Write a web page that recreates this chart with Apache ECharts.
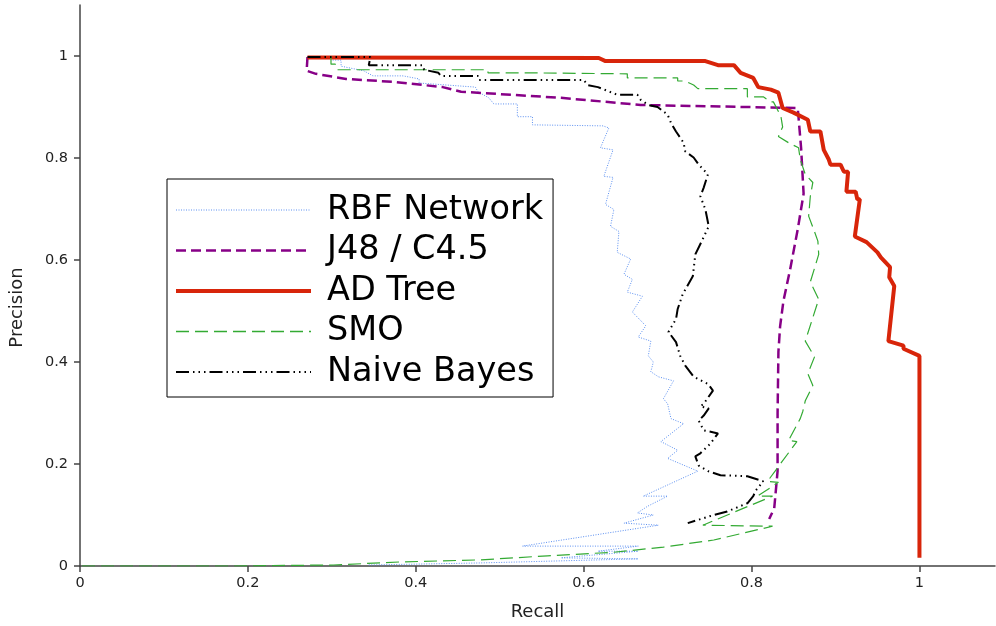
<!DOCTYPE html>
<html>
<head>
<meta charset="utf-8">
<title>Precision / Recall</title>
<script src="https://cdn.jsdelivr.net/npm/echarts@6/dist/echarts.min.js"></script>
<style>
  html, body { margin: 0; padding: 0; background: #fff; }
  #chart { width: 996px; height: 626px; }
</style>
</head>
<body>
<div id="chart"></div>
<script>
// [recall, precision] pairs
var rbfNetwork = [
  [0.301, 0.992], [0.311, 0.992], [0.311, 0.980], [0.338, 0.971], [0.349, 0.961], [0.385, 0.961],
  [0.404, 0.955], [0.404, 0.947], [0.471, 0.939], [0.474, 0.930], [0.487, 0.918], [0.493, 0.906],
  [0.521, 0.906], [0.521, 0.881], [0.539, 0.881], [0.539, 0.865], [0.623, 0.863], [0.630, 0.859],
  [0.620, 0.820], [0.635, 0.816], [0.624, 0.764], [0.635, 0.762], [0.626, 0.709], [0.636, 0.699],
  [0.632, 0.666], [0.642, 0.656], [0.640, 0.615], [0.656, 0.602], [0.648, 0.572], [0.658, 0.562],
  [0.652, 0.537], [0.670, 0.529], [0.658, 0.498], [0.674, 0.471], [0.665, 0.449], [0.680, 0.441],
  [0.677, 0.412], [0.683, 0.400], [0.680, 0.381], [0.689, 0.371], [0.707, 0.363], [0.695, 0.328],
  [0.700, 0.318], [0.704, 0.289], [0.719, 0.279], [0.692, 0.244], [0.712, 0.227], [0.700, 0.211],
  [0.736, 0.186], [0.671, 0.137], [0.700, 0.137], [0.676, 0.117], [0.664, 0.104], [0.683, 0.100],
  [0.648, 0.084], [0.689, 0.080], [0.527, 0.039], [0.665, 0.039], [0.617, 0.029], [0.665, 0.029],
  [0.573, 0.016], [0.665, 0.014], [0.477, 0.006], [0.343, 0.002]
];
var j48 = [
  [0.271, 0.998], [0.270, 0.971], [0.281, 0.965], [0.317, 0.955], [0.376, 0.949], [0.432, 0.939],
  [0.454, 0.930], [0.573, 0.918], [0.668, 0.904], [0.855, 0.898], [0.859, 0.820], [0.862, 0.730],
  [0.855, 0.660], [0.846, 0.582], [0.838, 0.520], [0.834, 0.470], [0.832, 0.420], [0.831, 0.300],
  [0.831, 0.186], [0.827, 0.113], [0.821, 0.092]
];
var adTree = [
  [0.271, 0.997], [0.618, 0.996], [0.626, 0.990], [0.745, 0.990], [0.760, 0.982], [0.779, 0.982],
  [0.787, 0.967], [0.802, 0.957], [0.808, 0.939], [0.823, 0.934], [0.832, 0.928], [0.837, 0.898],
  [0.850, 0.889], [0.867, 0.875], [0.870, 0.852], [0.882, 0.852], [0.886, 0.816], [0.892, 0.797],
  [0.894, 0.787], [0.906, 0.787], [0.910, 0.773], [0.915, 0.773], [0.913, 0.734], [0.924, 0.734],
  [0.926, 0.719], [0.929, 0.719], [0.923, 0.646], [0.937, 0.635], [0.950, 0.615], [0.954, 0.605],
  [0.965, 0.586], [0.964, 0.566], [0.970, 0.549], [0.963, 0.441], [0.981, 0.432], [0.981, 0.426],
  [1.000, 0.412], [1.000, 0.016]
];
var smo = [
  [0.299, 1.000], [0.299, 0.984], [0.304, 0.984], [0.307, 0.979], [0.307, 0.973], [0.486, 0.973],
  [0.486, 0.967], [0.531, 0.967], [0.531, 0.965], [0.652, 0.965], [0.652, 0.957], [0.712, 0.957],
  [0.712, 0.951], [0.721, 0.951], [0.731, 0.943], [0.736, 0.936], [0.795, 0.936], [0.795, 0.920],
  [0.814, 0.920], [0.823, 0.910], [0.826, 0.910], [0.832, 0.891], [0.835, 0.881], [0.837, 0.861],
  [0.832, 0.842], [0.844, 0.830], [0.856, 0.820], [0.858, 0.797], [0.864, 0.768], [0.873, 0.752],
  [0.870, 0.725], [0.868, 0.686], [0.874, 0.660], [0.879, 0.637], [0.880, 0.611], [0.870, 0.557],
  [0.880, 0.523], [0.864, 0.441], [0.875, 0.410], [0.867, 0.377], [0.873, 0.354], [0.864, 0.324],
  [0.861, 0.303], [0.858, 0.289], [0.844, 0.246], [0.854, 0.244], [0.832, 0.195], [0.819, 0.166],
  [0.832, 0.164], [0.807, 0.137], [0.825, 0.137], [0.742, 0.080], [0.825, 0.078], [0.755, 0.051],
  [0.695, 0.037], [0.636, 0.027], [0.557, 0.020], [0.477, 0.012], [0.382, 0.008], [0.302, 0.002],
  [0.183, 0.000], [0.000, 0.000]
];
var naiveBayes = [
  [0.271, 0.998], [0.346, 0.998], [0.344, 0.982], [0.408, 0.982], [0.410, 0.973], [0.427, 0.967],
  [0.430, 0.961], [0.474, 0.961], [0.475, 0.953], [0.600, 0.953], [0.605, 0.943], [0.617, 0.939],
  [0.640, 0.924], [0.664, 0.924], [0.668, 0.914], [0.677, 0.904], [0.688, 0.900], [0.700, 0.885],
  [0.704, 0.869], [0.710, 0.852], [0.719, 0.830], [0.721, 0.813], [0.731, 0.801], [0.737, 0.787],
  [0.748, 0.768], [0.743, 0.742], [0.739, 0.725], [0.745, 0.699], [0.749, 0.666], [0.743, 0.645],
  [0.733, 0.611], [0.730, 0.568], [0.718, 0.533], [0.712, 0.504], [0.710, 0.484], [0.701, 0.459],
  [0.710, 0.439], [0.715, 0.412], [0.721, 0.393], [0.731, 0.371], [0.748, 0.357], [0.754, 0.344],
  [0.743, 0.318], [0.739, 0.313], [0.749, 0.309], [0.743, 0.295], [0.737, 0.285], [0.743, 0.266],
  [0.760, 0.260], [0.751, 0.240], [0.739, 0.221], [0.733, 0.215], [0.737, 0.197], [0.748, 0.186],
  [0.763, 0.178], [0.795, 0.176], [0.814, 0.166], [0.805, 0.148], [0.802, 0.137], [0.795, 0.123],
  [0.771, 0.107], [0.751, 0.098], [0.724, 0.084]
];
var tickValues = [0, 0.2, 0.4, 0.6, 0.8, 1];

var chart = echarts.init(document.getElementById('chart'));
var font = 'DejaVu Sans';

var option = {
  animation: false,
  textStyle: { fontFamily: font },
  grid: { left: 79, right: 1, top: 5, bottom: 58 },
  legend: {
    orient: 'vertical',
    left: 167,
    top: 179,
    padding: [14, 10, 8, 7],
    itemGap: 6.5,
    itemWidth: 135,
    itemHeight: 14,
    borderColor: '#000',
    borderWidth: 1,
    backgroundColor: '#fff',
    selectedMode: false,
    itemStyle: { opacity: 0 },
    textStyle: { fontSize: 33.5, lineHeight: 32, color: '#000', fontFamily: font, padding: [0, 0, 0, 11] },
    data: [
      { name: 'RBF Network', lineStyle: { width: 1 } },
      { name: 'J48 / C4.5', lineStyle: { width: 2.5 } },
      { name: 'AD Tree', lineStyle: { width: 4 } },
      { name: 'SMO', lineStyle: { width: 1.5 } },
      { name: 'Naive Bayes', lineStyle: { width: 2 } }
    ]
  },
  xAxis: {
    type: 'value',
    min: 0,
    max: 1.09,
    name: 'Recall',
    nameLocation: 'middle',
    nameGap: 37,
    nameTextStyle: { fontSize: 18, color: '#222', fontFamily: font },
    splitLine: { show: false },
    axisLine: { lineStyle: { color: '#444', width: 1.5 } },
    axisTick: { length: 6, customValues: tickValues, lineStyle: { color: '#444', width: 1.5 } },
    axisLabel: { customValues: tickValues, margin: 10, fontSize: 14.5, color: '#222', fontFamily: font }
  },
  yAxis: {
    type: 'value',
    min: 0,
    max: 1.1,
    name: 'Precision',
    nameLocation: 'middle',
    nameGap: 54,
    nameRotate: 90,
    nameTextStyle: { fontSize: 18, color: '#222', fontFamily: font, padding: [0, 44, 0, 0] },
    splitLine: { show: false },
    axisLine: { lineStyle: { color: '#444', width: 1.5 } },
    axisTick: { length: 6, customValues: tickValues, lineStyle: { color: '#444', width: 1.5 } },
    axisLabel: { customValues: tickValues, margin: 12, fontSize: 14.5, color: '#222', fontFamily: font }
  },
  series: [
    {
      name: 'RBF Network', type: 'line', data: rbfNetwork, symbol: 'none',
      lineStyle: { color: '#5b8ff0', width: 1, type: [1, 1.5] },
      itemStyle: { color: '#5b8ff0' }
    },
    {
      name: 'J48 / C4.5', type: 'line', data: j48, symbol: 'none',
      lineStyle: { color: '#870087', width: 2.5, type: [10, 5] },
      itemStyle: { color: '#870087' }
    },
    {
      name: 'AD Tree', type: 'line', data: adTree, symbol: 'none',
      lineStyle: { color: '#d8250a', width: 4 },
      itemStyle: { color: '#d8250a' }
    },
    {
      name: 'SMO', type: 'line', data: smo, symbol: 'none',
      lineStyle: { color: '#33aa33', width: 1.2, type: [13, 6] },
      itemStyle: { color: '#33aa33' }
    },
    {
      name: 'Naive Bayes', type: 'line', data: naiveBayes, symbol: 'none',
      lineStyle: { color: '#000', width: 2, type: [13, 4, 1.5, 4, 1.5, 4, 1.5, 4] },
      itemStyle: { color: '#000' }
    }
  ]
};

chart.setOption(option);
window.addEventListener('resize', function () {
  chart.resize();
});
</script>
</body>
</html>
